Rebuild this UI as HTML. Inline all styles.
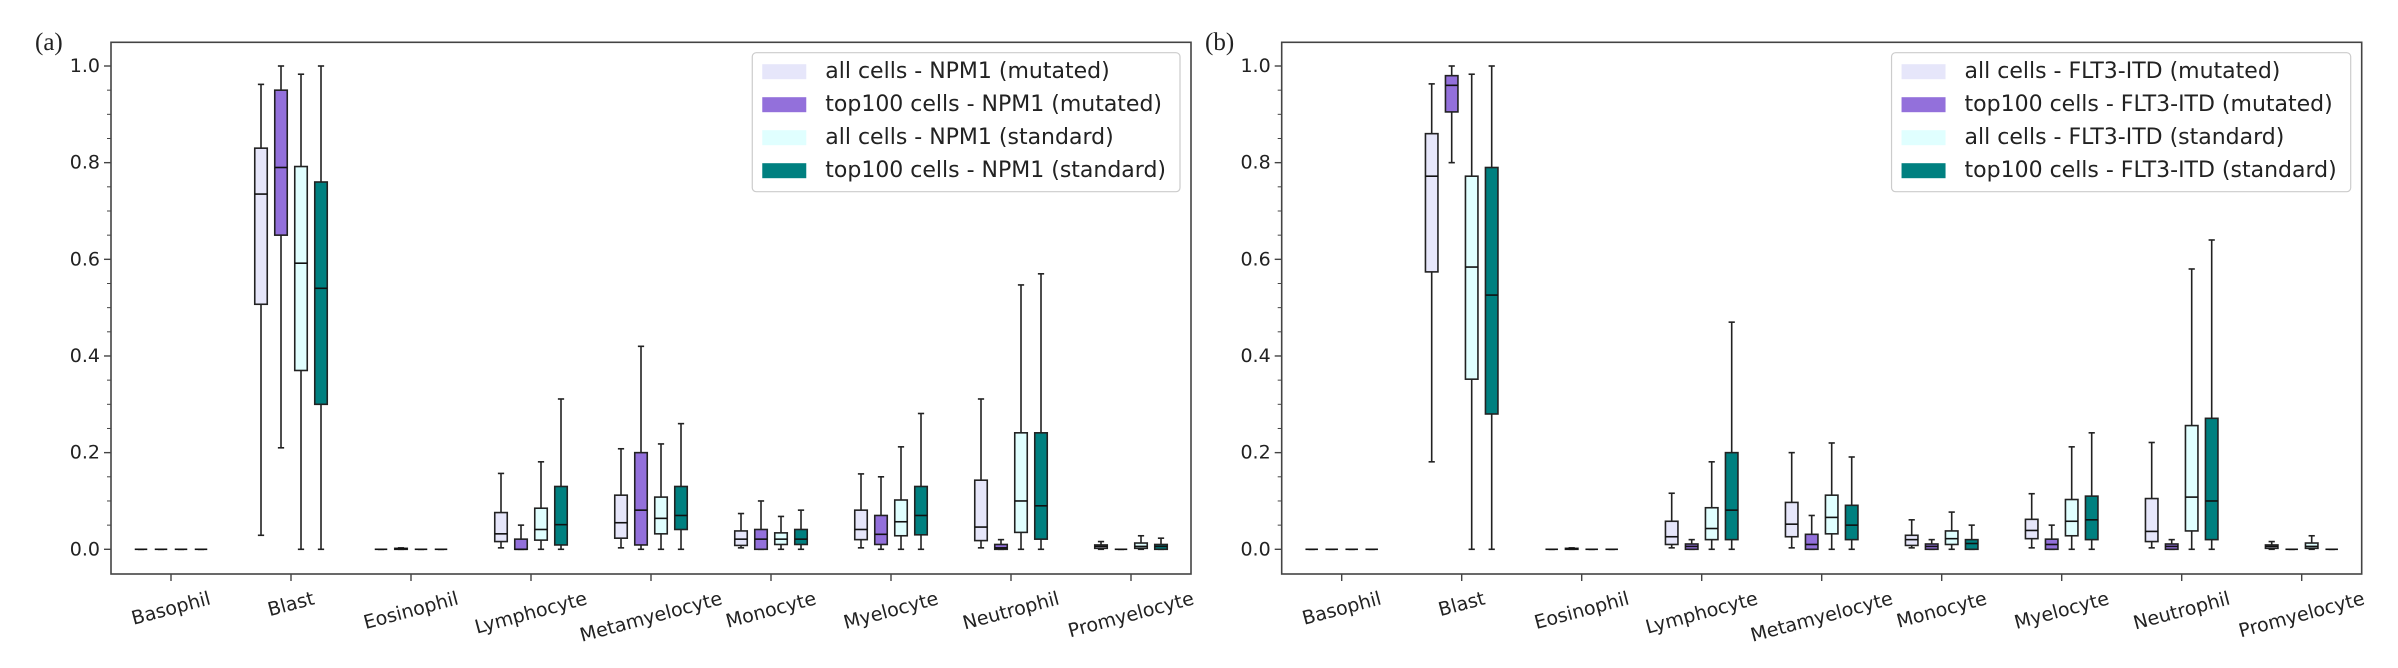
<!DOCTYPE html>
<html><head><meta charset="utf-8">
<style>
html,body{margin:0;padding:0;background:#fff;}
svg{display:block;}
text{font-family:"DejaVu Sans","Liberation Sans",sans-serif;fill:#222;}
</style></head>
<body>
<svg id="chart" width="2398" height="668" viewBox="0 0 2398 668" xmlns="http://www.w3.org/2000/svg"></svg>
<script>
const categories = ["Basophil","Blast","Eosinophil","Lymphocyte","Metamyelocyte","Monocyte","Myelocyte","Neutrophil","Promyelocyte"];
const yTicks = [0.0,0.2,0.4,0.6,0.8,1.0];
const yTickLabels = ["0.0","0.2","0.4","0.6","0.8","1.0"];
const seriesColors = ["#e6e6fa","#9370db","#e0ffff","#008080"];
const legendA = ["all cells - NPM1 (mutated)","top100 cells - NPM1 (mutated)","all cells - NPM1 (standard)","top100 cells - NPM1 (standard)"];
const legendB = ["all cells - FLT3-ITD (mutated)","top100 cells - FLT3-ITD (mutated)","all cells - FLT3-ITD (standard)","top100 cells - FLT3-ITD (standard)"];
// each entry: [whiskerLow, q1, median, q3, whiskerHigh]
const aAllMut = [[0,0,0,0,0],[0.029,0.507,0.735,0.83,0.962],[0,0,0,0,0],[0.003,0.016,0.032,0.076,0.157],[0.003,0.023,0.055,0.112,0.208],[0.003,0.008,0.021,0.038,0.074],[0.003,0.02,0.041,0.081,0.156],[0.003,0.018,0.046,0.143,0.311],[0,0.002,0.006,0.009,0.016]];
const aTopMut = [[0,0,0,0,0],[0.21,0.65,0.79,0.95,1.0],[0,0,0.001,0.002,0.003],[0,0,0,0.021,0.05],[0,0.009,0.081,0.2,0.42],[0,0,0.021,0.041,0.1],[0,0.01,0.031,0.07,0.15],[0,0,0.003,0.01,0.02],[0,0,0,0,0]];
const aAllStd = [[0,0,0,0,0],[0,0.37,0.592,0.792,0.983],[0,0,0,0,0],[0,0.019,0.041,0.085,0.181],[0,0.032,0.064,0.108,0.218],[0,0.01,0.021,0.034,0.068],[0,0.028,0.057,0.102,0.212],[0,0.035,0.10,0.241,0.547],[0,0.002,0.006,0.013,0.028]];
const aTopStd = [[0,0,0,0,0],[0,0.30,0.54,0.76,1.0],[0,0,0,0,0],[0,0.009,0.051,0.13,0.311],[0,0.041,0.07,0.13,0.26],[0,0.01,0.021,0.041,0.081],[0,0.03,0.07,0.13,0.281],[0,0.021,0.09,0.241,0.57],[0,0,0.006,0.01,0.023]];
const bAllMut = [[0,0,0,0,0],[0.181,0.574,0.772,0.86,0.963],[0,0,0,0,0],[0.003,0.01,0.026,0.058,0.116],[0.003,0.026,0.052,0.097,0.2],[0.003,0.008,0.02,0.029,0.061],[0.003,0.022,0.039,0.062,0.115],[0.003,0.016,0.037,0.105,0.221],[0,0.002,0.006,0.009,0.016]];
const bTopMut = [[0,0,0,0,0],[0.80,0.905,0.96,0.98,1.0],[0,0,0.001,0.002,0.003],[0,0,0.006,0.011,0.02],[0,0,0.01,0.031,0.07],[0,0,0.006,0.011,0.02],[0,0,0.01,0.021,0.05],[0,0,0.006,0.011,0.02],[0,0,0,0,0]];
const bAllStd = [[0,0,0,0,0],[0,0.352,0.584,0.772,0.983],[0,0,0,0,0],[0,0.02,0.043,0.086,0.181],[0,0.032,0.066,0.112,0.22],[0,0.01,0.022,0.038,0.077],[0,0.028,0.058,0.103,0.212],[0,0.038,0.108,0.256,0.58],[0,0.002,0.006,0.013,0.028]];
const bTopStd = [[0,0,0,0,0],[0,0.28,0.526,0.79,1.0],[0,0,0,0,0],[0,0.02,0.081,0.2,0.47],[0,0.02,0.05,0.091,0.191],[0,0,0.012,0.02,0.05],[0,0.02,0.061,0.11,0.241],[0,0.02,0.10,0.271,0.64],[0,0,0,0,0]];

const NS = "http://www.w3.org/2000/svg";
const svg = document.getElementById("chart");
function mk(tag, attrs, parent){
  const e = document.createElementNS(NS, tag);
  for (const k in attrs) e.setAttribute(k, attrs[k]);
  (parent||svg).appendChild(e);
  return e;
}
const Y0 = 549.3, YS = 483.3, TOP = 42.3, BOT = 574;
function yScale(v){ return Y0 - v*YS; }

function panel(left, label, labelX, series, legendTexts, pname){
  const g = mk("g", {});
  
  
  const right = left + 1080;
  const xScale = i => left + 60 + 120*i;
  // panel label
  const pl = mk("text", {x:labelX, y:50, "font-family":"Liberation Serif, serif", "font-size":"25", fill:"#111"}, g);
  pl.style.fontFamily = '"Liberation Serif", serif';
  pl.textContent = label;
  
  
  // boxes
  const offs = [-30,-10,10,30], bw = 12.5, cw = 6.25;
  series.forEach((ser, si) => {
    ser.forEach((d, ci) => {
      const cx = xScale(ci) + offs[si];
      const bg = mk("g", {}, g);
      
      
      const [lo,q1,md,q3,hi] = d;
      const st = {stroke:"#222", "stroke-width":"1.6", fill:"none"};
      mk("line", Object.assign({x1:cx,x2:cx,y1:yScale(q3),y2:yScale(hi)}, st), bg);
      mk("line", Object.assign({x1:cx,x2:cx,y1:yScale(lo),y2:yScale(q1)}, st), bg);
      mk("line", Object.assign({x1:cx-cw/2,x2:cx+cw/2,y1:yScale(hi),y2:yScale(hi)}, st), bg);
      mk("line", Object.assign({x1:cx-cw/2,x2:cx+cw/2,y1:yScale(lo),y2:yScale(lo)}, st), bg);
      mk("rect", {x:cx-bw/2, y:yScale(q3), width:bw, height:Math.max(0,yScale(q1)-yScale(q3)), fill:seriesColors[si], stroke:"#222", "stroke-width":"1.6"}, bg);
      mk("line", {x1:cx-bw/2,x2:cx+bw/2,y1:yScale(md),y2:yScale(md),stroke:"#111","stroke-width":"1.6"}, bg);
    });
  });
  // axes frame
  const fr = mk("rect", {x:left, y:TOP, width:1080, height:BOT-TOP, fill:"none", stroke:"#444", "stroke-width":"1.6"}, g);
  
  
  // y ticks
  for (let v = 0; v <= 1.0001; v += 0.05) {
    const major = Math.abs(Math.round(v*5) - v*5) < 1e-6;
    mk("line", {x1:left-(major?7:4), x2:left, y1:yScale(v), y2:yScale(v), stroke:"#444", "stroke-width":major?"1.4":"1"}, g);
  }
  yTicks.forEach((v, i) => {
    const t = mk("text", {x:left-11, y:yScale(v), "text-anchor":"end", "dominant-baseline":"central", "font-size":"19"}, g);
    t.textContent = yTickLabels[i];
    
    
  });
  // x ticks
  categories.forEach((c, i) => {
    const x = xScale(i);
    mk("line", {x1:x, x2:x, y1:BOT, y2:BOT+7, stroke:"#444", "stroke-width":"1.4"}, g);
    const t = mk("text", {x:0, y:0, "text-anchor":"middle", "dominant-baseline":"central", "font-size":"19"}, g);
    t.textContent = c;
    
    
    const w = t.getComputedTextLength();
    const cy = 589 + (w*0.2588 + 19*0.9659)/2;
    t.setAttribute("transform", "translate(" + x + "," + cy + ") rotate(-15)");
  });
  // legend
  const lg = mk("g", {}, g);
  
  
  const box = mk("rect", {x:0, y:52.7, width:10, height:139, rx:4, fill:"#fff", "fill-opacity":"0.8", stroke:"#ccc", "stroke-width":"1.2"}, lg);
  let maxW = 0; const texts = [];
  legendTexts.forEach((s, i) => {
    const cy = 71.7 + 33*i;
    const t = mk("text", {x:0, y:cy, "dominant-baseline":"central", "font-size":"22"}, lg);
    t.textContent = s;
    
    
    maxW = Math.max(maxW, t.getComputedTextLength());
    texts.push(t);
  });
  const bRight = right - 11;
  const bLeft = bRight - (maxW + 73 + 14);
  box.setAttribute("x", bLeft);
  box.setAttribute("width", bRight - bLeft);
  texts.forEach((t, i) => {
    t.setAttribute("x", bLeft + 73);
    const cy = 71.7 + 33*i;
    const p = mk("rect", {x:bLeft+10, y:cy-7.5, width:44, height:15, fill:seriesColors[i]}, lg);
    
    
  });
}
panel(111, "(a)", 35, [aAllMut, aTopMut, aAllStd, aTopStd], legendA, "panel-a");
panel(1281.7, "(b)", 1205, [bAllMut, bTopMut, bAllStd, bTopStd], legendB, "panel-b");
</script>
</body></html>
